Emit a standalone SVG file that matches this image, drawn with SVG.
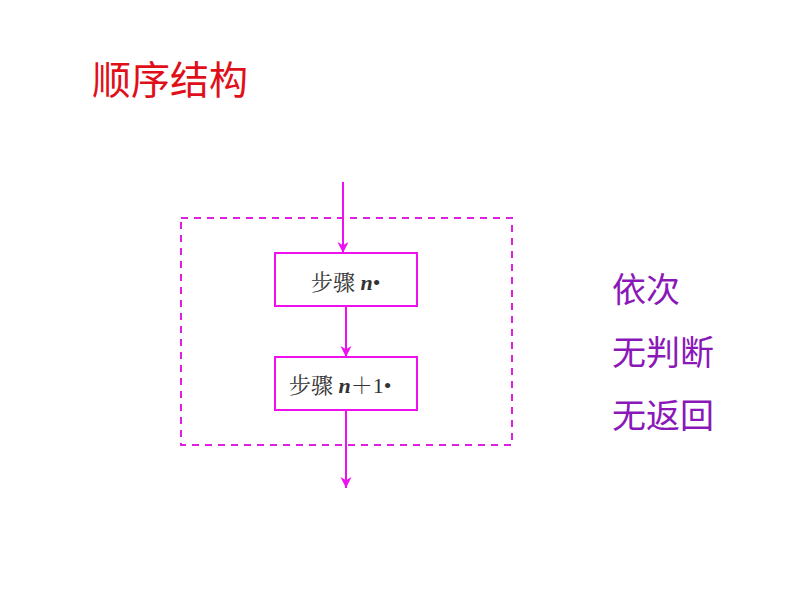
<svg xmlns="http://www.w3.org/2000/svg" width="794" height="596" viewBox="0 0 794 596">
<defs>
<style>
.title{font-family:"Liberation Sans","Noto Sans CJK SC",sans-serif;font-size:39px;fill:#e0101a}
.side{font-family:"Liberation Sans","Noto Sans CJK SC",sans-serif;font-size:34px;fill:#8a18b8}
.box{fill:#ffffff;stroke:#ee10ee;stroke-width:2}
.lbl{font-family:"Liberation Serif","Noto Serif CJK SC","Noto Sans CJK SC",serif;font-size:22px;fill:#333333}
.var{font-family:"Liberation Serif",serif;font-style:italic;font-weight:bold}
.conn{stroke:#ee10ee;stroke-width:2;fill:none;marker-end:url(#ah)}
.frame{fill:none;stroke:#e020e0;stroke-width:2;stroke-dasharray:7,6}
</style>
<marker id="ah" viewBox="0 0 10 10" refX="10" refY="5" markerWidth="11" markerHeight="12" markerUnits="userSpaceOnUse" orient="auto">
<path d="M0,0 L10,5 L0,10 L3,5 Z" fill="#ee10ee"/>
</marker>
</defs>
<text class="title" x="92" y="94">顺序结构</text>
<rect class="frame" x="181" y="218" width="331" height="227"/>
<g id="connectors">
<line class="conn" x1="343" y1="182" x2="343" y2="253"/>
<line class="conn" x1="346" y1="306" x2="346" y2="357"/>
<line class="conn" x1="346" y1="410" x2="346" y2="488"/>
</g>
<g id="step-n">
<rect class="box" x="275" y="253" width="142" height="53"/>
<text class="lbl" x="311" y="290">步骤 <tspan class="var">n</tspan>•</text>
</g>
<g id="step-n1">
<rect class="box" x="275" y="357" width="142" height="53"/>
<text class="lbl" x="289" y="393">步骤 <tspan class="var">n</tspan>＋1•</text>
</g>
<text class="side" x="612" y="302">依次</text>
<text class="side" x="612" y="365">无判断</text>
<text class="side" x="612" y="428">无返回</text>
</svg>
